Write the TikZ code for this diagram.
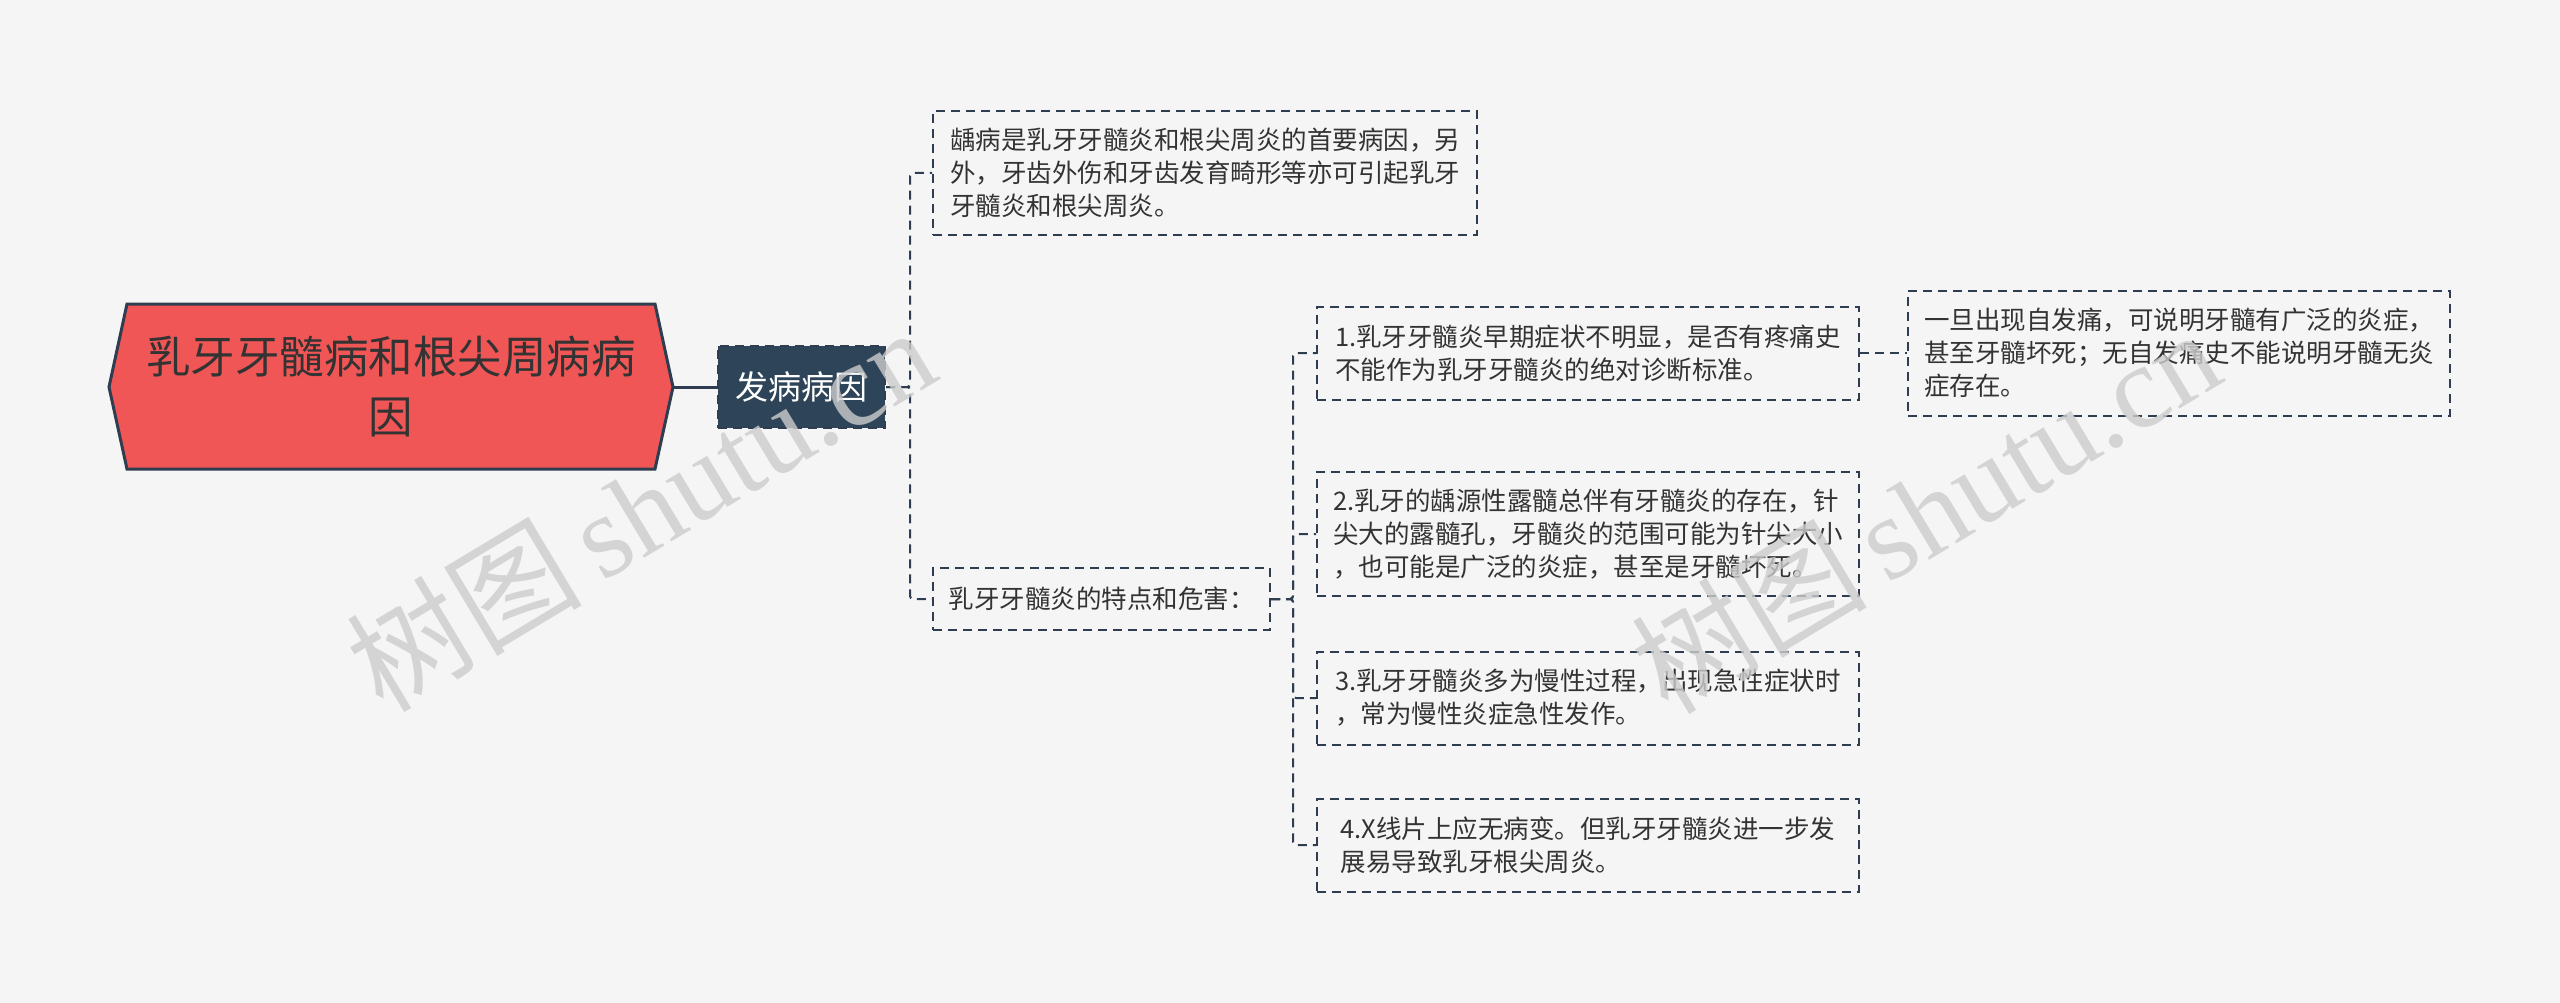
\documentclass[tikz,border=0pt]{standalone}
\usepackage{fontspec}
\setmainfont{Noto Sans CJK SC}
\newfontfamily\wmlatin{Liberation Serif}
\usetikzlibrary{calc}
\definecolor{bgc}{HTML}{F5F5F5}
\definecolor{rootfill}{HTML}{F05656}
\definecolor{edgec}{HTML}{2E3E50}
\definecolor{darkfill}{HTML}{2E4559}
\definecolor{txt}{HTML}{333333}
\tikzset{
  leafbox/.style={draw=edgec, line width=2pt, dash pattern=on 9pt off 6pt, fill=bgc,
    text=txt, font=\fontsize{25.5}{33}\selectfont, align=left, anchor=west,
    inner xsep=10pt, inner ysep=8pt},
  conn/.style={draw=edgec, line width=2pt, dash pattern=on 9pt off 6pt, rounded corners=3pt},
  wm/.style={text=black!20, opacity=0.8, font=\fontsize{118}{118}\selectfont, rotate=31}
}
\begin{document}
\begin{tikzpicture}[x=1pt,y=-1pt]
\useasboundingbox (0,0) rectangle (2560,1003);
\fill[bgc] (0,0) rectangle (2560,1003);

% root hexagon
\draw[fill=rootfill, draw=edgec, line width=3pt]
  (109,387) -- (127,304) -- (655,304) -- (673,387) -- (655,469) -- (127,469) -- cycle;
\node[text=txt, font=\fontsize{44.5}{60}\selectfont, align=center] (root) at (391,387)
  {乳牙牙髓病和根尖周病病\\因};
\coordinate (rootE) at (673,387);

% level 1
\node[draw=edgec, line width=2pt, dash pattern=on 9pt off 6pt, fill=darkfill, text=white,
  font=\fontsize{33}{40}\selectfont, minimum width=167pt, minimum height=82pt, inner sep=0pt]
  (fa) at (801.5,387) {发病病因};
\draw[edgec, line width=3pt] (rootE) -- (fa.west);

% level 2
\node[leafbox, minimum width=544pt, minimum height=124pt] (b1) at (932,173)
  {龋病是乳牙牙髓炎和根尖周炎的首要病因，另\\外，牙齿外伤和牙齿发育畸形等亦可引起乳牙\\牙髓炎和根尖周炎。};
\node[leafbox, minimum width=337pt, minimum height=62pt] (b2) at (932,599)
  {乳牙牙髓炎的特点和危害：};

\draw[conn] (fa.east) -- ++(24,0) |- (b1.west);
\draw[conn] (fa.east) -- ++(24,0) |- (b2.west);

% level 3
\node[leafbox, minimum width=542pt, minimum height=93pt] (c1) at (1316,353)
  {1.乳牙牙髓炎早期症状不明显，是否有疼痛史\\不能作为乳牙牙髓炎的绝对诊断标准。};
\node[leafbox, minimum width=542pt, minimum height=124pt] (c2) at (1316,534)
  {2.乳牙的龋源性露髓总伴有牙髓炎的存在，针\\尖大的露髓孔，牙髓炎的范围可能为针尖大小\\，也可能是广泛的炎症，甚至是牙髓坏死。};
\node[leafbox, minimum width=542pt, minimum height=93pt] (c3) at (1316,698)
  {3.乳牙牙髓炎多为慢性过程，出现急性症状时\\，常为慢性炎症急性发作。};
\node[leafbox, minimum width=542pt, minimum height=93pt] (c4) at (1316,845)
  {4.X线片上应无病变。但乳牙牙髓炎进一步发\\展易导致乳牙根尖周炎。};

\draw[conn] (b2.east) -- ++(22,0) |- (c1.west);
\draw[conn] (b2.east) -- ++(22,0) |- (c2.west);
\draw[conn] (b2.east) -- ++(22,0) |- (c3.west);
\draw[conn] (b2.east) -- ++(22,0) |- (c4.west);

% level 4
\node[leafbox, minimum width=542pt, minimum height=125pt] (d1) at (1907,353)
  {一旦出现自发痛，可说明牙髓有广泛的炎症，\\甚至牙髓坏死；无自发痛史不能说明牙髓无炎\\症存在。};
\draw[conn] (c1.east) -- (d1.west);

% watermarks
\node[wm] (wm1) at (640,508) {树图\,{\wmlatin shutu.cn}};
\node[wm] (wm2) at (1925,510) {树图\,{\wmlatin shutu.cn}};
\end{tikzpicture}
\end{document}
